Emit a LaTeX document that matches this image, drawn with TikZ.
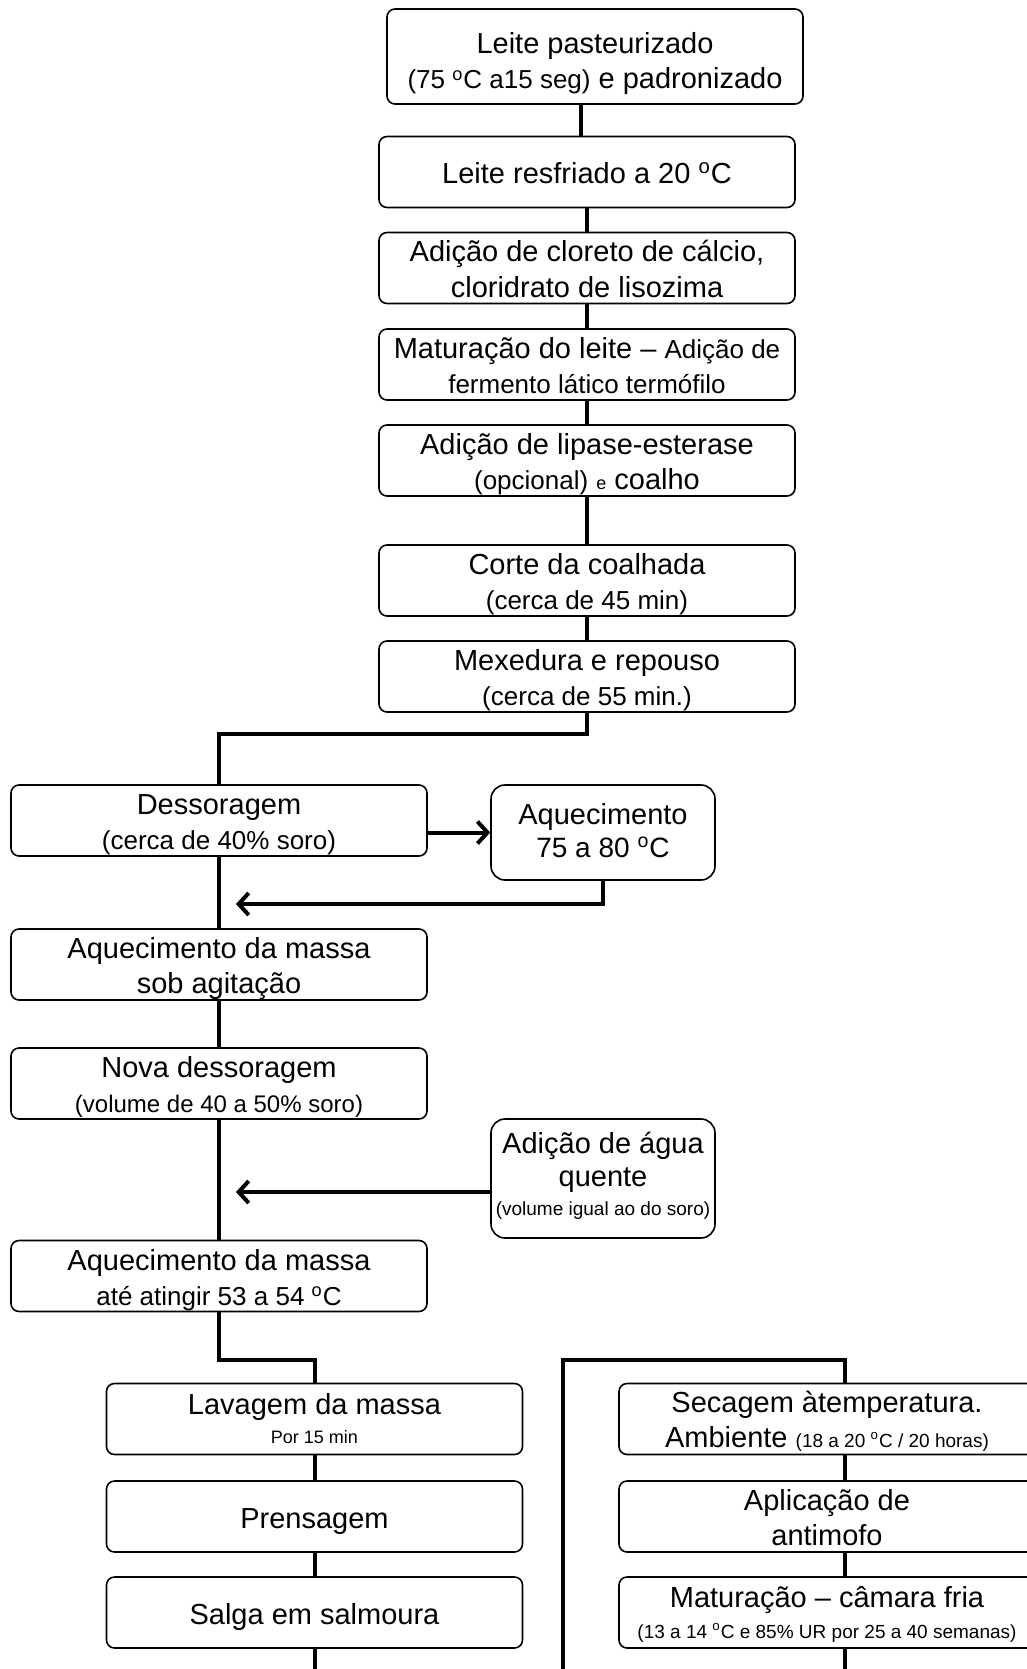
\documentclass[tikz,border=0pt]{standalone}
\usepackage{fontspec}
\setmainfont{Liberation Sans}
\usetikzlibrary{arrows.meta}

\begin{document}
\begin{tikzpicture}[x=0.5pt, y=-0.5pt,
    procbox/.style={draw, line width=0.8pt, rounded corners=4pt, minimum width=208pt,
        minimum height=35.5pt, inner sep=0pt, align=center, font=\fontsize{14.5}{17.5}\selectfont,
        text height=31.5pt, text depth=2.5pt},
    oneline/.style={text height=14pt},
    sidebox/.style={procbox, rounded corners=7pt, minimum width=112pt},
    flow/.style={line width=2pt},
    flowarrow/.style={flow, -{Straight Barb[length=5pt, width=11pt]}}]
    \useasboundingbox (0,0) rectangle (1027,1669);

    % coluna central
    \node[procbox, minimum height=47.5pt, text height=35pt] (pasteur) at (595,56.5) {Leite pasteurizado\\{\fontsize{13}{17.5}\selectfont (75 \textsuperscript{o}C a15 seg)} e padronizado};
    \node[procbox, oneline] (resfr) at (587,172) {Leite resfriado a 20 \textsuperscript{o}C};
    \node[procbox] (calcio) at (587,268) {Adição de cloreto de cálcio,\\cloridrato de lisozima};
    \node[procbox] (matleite) at (587,364.5) {Maturação do leite – {\fontsize{13}{17.5}\selectfont Adição de}\\{\fontsize{13}{17.5}\selectfont fermento lático termófilo}};
    \node[procbox] (coalho) at (587,460.5) {Adição de lipase-esterase\\{\fontsize{13}{17.5}\selectfont (opcional)} {\fontsize{9}{17.5}\selectfont e} coalho};
    \node[procbox] (corte) at (587,580.5) {Corte da coalhada\\{\fontsize{13}{17.5}\selectfont (cerca de 45 min)}};
    \node[procbox] (mexed) at (587,676.5) {Mexedura e repouso\\{\fontsize{13}{17.5}\selectfont (cerca de 55 min.)}};

    % coluna esquerda
    \node[procbox] (dessor) at (219,820.5) {Dessoragem\\{\fontsize{13}{17.5}\selectfont (cerca de 40\% soro)}};
    \node[sidebox, minimum height=47.5pt, text height=27.5pt] (aquec) at (603,832.5) {Aquecimento\\[-1pt]{\fontsize{14}{17.5}\selectfont 75 a 80 \textsuperscript{o}C}};
    \node[procbox, text height=31pt] (massa1) at (219,964.5) {Aquecimento da massa\\sob agitação};
    \node[procbox] (novades) at (219,1083.5) {Nova dessoragem\\{\fontsize{12}{17.5}\selectfont (volume de 40 a 50\% soro)}};
    \node[sidebox, minimum height=59.5pt, text height=39.2pt] (agua) at (603,1178.5) {Adição de água\\[-1pt]quente\\[-3pt]{\fontsize{9.5}{17.5}\selectfont (volume igual ao do soro)}};
    \node[procbox] (massa2) at (219,1276) {Aquecimento da massa\\{\fontsize{13}{17.5}\selectfont até atingir 53 a 54 \textsuperscript{o}C}};

    % salga
    \node[procbox, text height=26.5pt] (lavag) at (314.5,1419) {Lavagem da massa\\[-3pt]{\fontsize{9}{17.5}\selectfont Por 15 min}};
    \node[procbox, oneline] (prens) at (314.5,1516.5) {Prensagem};
    \node[procbox, oneline] (salga) at (314.5,1612.5) {Salga em salmoura};

    % secagem e maturação
    \node[procbox, text height=31pt] (secag) at (827,1419) {Secagem àtemperatura.\\Ambiente {\fontsize{9.5}{17.5}\selectfont (18 a 20 \textsuperscript{o}C / 20 horas)}};
    \node[procbox] (antim) at (827,1516.5) {Aplicação de\\antimofo};
    \node[procbox, text height=28.5pt] (matcam) at (827,1612.5) {Maturação – câmara fria\\[-2pt]{\fontsize{9.5}{17.5}\selectfont (13 a 14 \textsuperscript{o}C e 85\% UR por 25 a 40 semanas)}};

    \coordinate (split1) at (219,734);
    \coordinate (ret1) at (236,904);
    \coordinate (ret2) at (236,1192);
    \coordinate (split2) at (314.5,1360);
    \coordinate (split3) at (563,1360);
    \coordinate (split4) at (845,1360);
    \coordinate (cut1) at (314.5,1669);
    \coordinate (cut2) at (563,1669);
    \coordinate (cut3) at (845,1669);

    \draw[flow] ([xshift=-3pt]resfr.north |- pasteur.south) -- ([xshift=-3pt]resfr.north);
    \foreach \a/\b in {resfr/calcio, calcio/matleite, matleite/coalho, coalho/corte, corte/mexed}
        \draw[flow] (\a.south) -- (\b.north);
    \draw[flow] (mexed.south) |- (split1) -- (dessor.north);

    \draw[flowarrow] (dessor.east |- aquec.west) -- (aquec.west);
    \draw[flowarrow] (aquec.south) |- (ret1);
    \draw[flow] (dessor.south) -- (massa1.north);
    \draw[flow] (massa1.south) -- (novades.north);
    \draw[flow] (novades.south) -- (massa2.north);
    \draw[flowarrow] (agua.west |- ret2) -- (ret2);

    \draw[flow] (massa2.south) |- (split2) -- (lavag.north);
    \draw[flow] (lavag.south) -- (prens.north);
    \draw[flow] (prens.south) -- (salga.north);
    \draw[flow] (salga.south) -- (cut1);

    \draw[flow] (cut2) -- (split3) -- (split4) -- (split4 |- secag.north);
    \draw[flow] (secag.south -| split4) -- (antim.north -| split4);
    \draw[flow] (antim.south -| split4) -- (matcam.north -| split4);
    \draw[flow] (matcam.south -| split4) -- (cut3);
\end{tikzpicture}
\end{document}
